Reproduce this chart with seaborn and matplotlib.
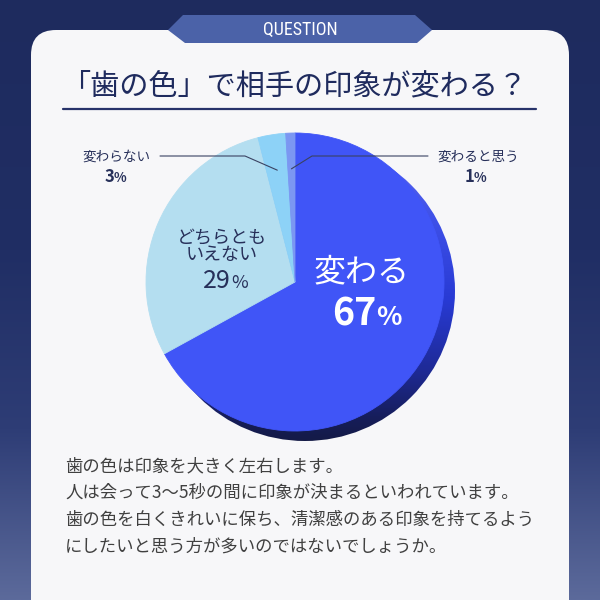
import matplotlib
matplotlib.use('Agg')

import numpy as np
import seaborn as sns
import matplotlib.pyplot as plt
from matplotlib.patches import Circle, FancyBboxPatch, Polygon

# ---------- データ ----------
labels = ["変わる", "どちらとも\nいえない", "変わらない", "変わると思う"]
values = [67, 29, 3, 1]
slice_hex = ["#4055f7", "#b4def0", "#8dd2f7", "#7b97f2"]
title = "「歯の色」で相手の印象が変わる？"
tab_text = "QUESTION"
body_lines = [
    "歯の色は印象を大きく左右します。",
    "人は会って3〜5秒の間に印象が決まるといわれています。",
    "歯の色を白くきれいに保ち、清潔感のある印象を持てるよう",
    "にしたいと思う方が多いのではないでしょうか。",
]

# ---------- フォント ----------
sns.set_theme(style="white")
plt.rcParams['font.family'] = ['Noto Sans CJK JP', 'DejaVu Sans']
plt.rcParams['axes.unicode_minus'] = False

navy = "#27305a"
slice_colors = sns.color_palette(slice_hex)


def vgrad(stops, y0, y1, n=400):
    # 縦方向のグラデーション画像
    ys = np.linspace(y0, y1, n)
    pos = [s[0] for s in stops]
    rgb = np.stack([np.interp(ys, pos, [s[1][i] for s in stops]) for i in range(3)], axis=-1) / 255
    return rgb[:, None, :]


fig = plt.figure(figsize=(6, 6), dpi=100)
ax = fig.add_axes([0, 0, 1, 1])

# 背景
bg = vgrad([(0, (30, 43, 94)), (250, (32, 46, 100)), (430, (46, 61, 118)), (600, (92, 106, 155))], 0, 600)
ax.imshow(bg, extent=(0, 600, 600, 0), aspect='auto', zorder=0)

# カード
card = FancyBboxPatch((31, 30), 538, 600, boxstyle="round,pad=0,rounding_size=25",
                      facecolor="#f7f7f9", edgecolor="none", zorder=1)
ax.add_patch(card)

# QUESTION タブ
tab = Polygon([(183, 15), (415, 15), (432, 30), (417, 43), (185, 43), (168, 30)],
              closed=True, facecolor="#4b62a8", edgecolor="none", zorder=2)
ax.add_patch(tab)
ax.text(300, 30, tab_text, ha='center', va='center', color='white', fontsize=13,
        family=['Roboto Condensed', 'Liberation Sans Narrow', 'Roboto', 'DejaVu Sans'], zorder=3)

# タイトル
ax.text(294, 86, title, ha='center', va='center', color="#1f2b5e", fontsize=21, zorder=3)
ax.plot([63, 536], [109, 109], color="#27336a", lw=1.6, zorder=3)

# ---------- 円グラフ ----------
cx, cy, r = 295, 282, 149

# 立体の側面（影）
sx, sy, sr = cx + 10, cy + 9, 150
side = vgrad([(140, (92, 106, 242)), (220, (62, 80, 232)), (300, (40, 58, 212)),
              (370, (30, 42, 150)), (420, (22, 29, 88)), (442, (20, 26, 70))], sy - sr, sy + sr)
im = ax.imshow(side, extent=(sx - sr, sx + sr, sy + sr, sy - sr), aspect='auto', zorder=2)
im.set_clip_path(Circle((sx, sy), sr, transform=ax.transData))

wedges, _ = ax.pie(values, colors=slice_colors, startangle=-90, counterclock=True,
                   center=(cx, cy), radius=r, wedgeprops=dict(linewidth=0.6))
for w in wedges:
    w.set_edgecolor(w.get_facecolor())
    w.set_zorder(3)


def anchor(w, k=0.76):
    a = np.deg2rad((w.theta1 + w.theta2) / 2)
    return cx + k * r * np.cos(a), cy + k * r * np.sin(a)


# 変わる 67%
ax.text(362, 272, labels[0], ha='center', va='center', color='white', fontsize=23, zorder=4)
ax.text(376, 325, f"{values[0]}", ha='right', va='baseline', color='white', fontsize=27,
        fontweight='bold', zorder=4)
ax.text(376, 325, "%", ha='left', va='baseline', color='white', fontsize=19,
        fontweight='bold', zorder=4)

# どちらともいえない 29%
ax.text(222, 246, labels[1], ha='center', va='center', color=navy, fontsize=13,
        linespacing=1.0, zorder=4)
ax.text(231, 288, f"{values[1]}", ha='right', va='baseline', color=navy, fontsize=18, zorder=4)
ax.text(231, 288, "%", ha='left', va='baseline', color=navy, fontsize=13, zorder=4)

# 変わらない 3%
ax.text(116, 157, labels[2], ha='center', va='center', color=navy, fontsize=9.8, zorder=4)
ax.text(114, 182, f"{values[2]}", ha='right', va='baseline', color=navy, fontsize=12,
        fontweight='bold', zorder=4)
ax.text(114, 182, "%", ha='left', va='baseline', color=navy, fontsize=9.5,
        fontweight='bold', zorder=4)

# 変わると思う 1%
ax.text(478, 157, labels[3], ha='center', va='center', color=navy, fontsize=9.8, zorder=4)
ax.text(474, 182, f"{values[3]}", ha='right', va='baseline', color=navy, fontsize=12,
        fontweight='bold', zorder=4)
ax.text(474, 182, "%", ha='left', va='baseline', color=navy, fontsize=9.5,
        fontweight='bold', zorder=4)

# 引き出し線
ax3 = anchor(wedges[2])
ax1 = anchor(wedges[3])
ax.plot([160, 245, ax3[0]], [156, 156, ax3[1]], color="#3a4262", lw=0.8, zorder=5)
ax.plot([ax1[0], 312, 428], [ax1[1], 156, 156], color="#3a4262", lw=0.8, zorder=5)

# ---------- 本文 ----------
for i, line in enumerate(body_lines):
    ax.text(65, 466 + 27 * i, line, ha='left', va='center', color="#404040", fontsize=12.5, zorder=4)

ax.set_xlim(0, 600)
ax.set_ylim(600, 0)
ax.set_aspect('auto')
ax.axis('off')

fig.savefig('out.png', dpi=100)
print("saved out.png")
